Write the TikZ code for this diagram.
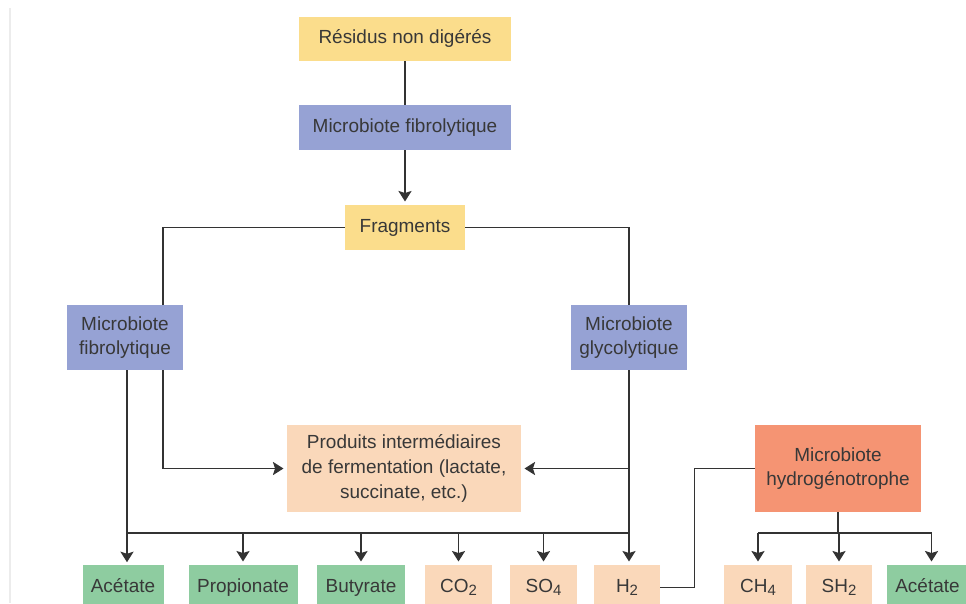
\documentclass[tikz,border=0pt]{standalone}
\usepackage{fontspec}
\setmainfont{Liberation Sans}
\usepackage{xcolor}
\usepackage{tikz}
\usetikzlibrary{arrows.meta, calc, positioning}
\definecolor{residue-color}{RGB}{251,221,140}
\definecolor{microbe-color}{RGB}{150,162,212}
\definecolor{product-color}{RGB}{250,216,186}
\definecolor{hydro-color}{RGB}{245,148,115}
\definecolor{acid-color}{RGB}{142,204,160}
\colorlet{line-color}{black!80}
\colorlet{text-color}{black!78}
\newdimen\pxunit
\pxunit=0.02cm
\newcommand{\lowidx}[1]{\raisebox{-0.3ex}{\fontsize{8.5}{9}\selectfont #1}}
\tikzset{
    box/.style = {rectangle, inner sep=0pt, align=center, text=text-color,
        font=\fontsize{10.8}{14}\selectfont},
    size/.style 2 args = {minimum width=#1\pxunit, minimum height=#2\pxunit},
    oneline/.style = {text height=8pt, text depth=2.5pt},
    residue/.style = {box, fill=residue-color},
    microbe/.style = {box, fill=microbe-color},
    product/.style = {box, fill=product-color},
    hydro/.style = {box, fill=hydro-color},
    acid/.style = {box, fill=acid-color},
    link/.style = {draw=line-color, line width=0.85pt},
    arr/.style = {link, -{Stealth[length=6pt,width=7.5pt,inset=1.2pt]}, shorten >=1.8pt},
}

\begin{document}
\begin{tikzpicture}[x=0.02cm, y=-0.02cm]
    \useasboundingbox (0,0) rectangle (966,603);
    \draw[gray!15, line width=0.6pt] (10,8) -- (10,603);

    \node[residue, oneline, size={212}{44}] (residus) at (405,39) {Résidus non digérés};
    \node[microbe, oneline, size={212}{45}] (fibroT) at (405,127.5) {Microbiote fibrolytique};
    \node[residue, oneline, size={120}{45}] (fragments) at (405,227.5) {Fragments};

    \node[microbe, size={116}{65}] (fibroL) at (125,337.5) {Microbiote\\fibrolytique};
    \node[microbe, size={116}{65}] (glyco) at (629,337.5) {Microbiote\\glycolytique};

    \node[product, size={234}{87}] (produits) at (404,468.5)
        {Produits intermédiaires\\de fermentation (lactate,\\succinate, etc.)};
    \node[hydro, size={166}{87}] (hydro) at (838,468.5)
        {Microbiote\\hydrogénotrophe};

    % bottom row, cut by the lower edge
    \node[acid, oneline, size={81}{45}] (acet1) at (123,587.5) {Acétate};
    \node[acid, oneline, size={109}{45}] (prop) at (243,587.5) {Propionate};
    \node[acid, oneline, size={88}{45}] (buty) at (361,587.5) {Butyrate};
    \node[product, oneline, size={67}{45}] (co2) at (458.5,587.5) {CO\lowidx{2}};
    \node[product, oneline, size={67}{45}] (so4) at (543.5,587.5) {SO\lowidx{4}};
    \node[product, oneline, size={66}{45}] (h2) at (627,587.5) {H\lowidx{2}};
    \node[product, oneline, size={68}{45}] (ch4) at (758,587.5) {CH\lowidx{4}};
    \node[product, oneline, size={66}{45}] (sh2) at (839,587.5) {SH\lowidx{2}};
    \node[acid, oneline, size={81}{45}] (acet2) at (927.5,587.5) {Acétate};

    \coordinate (bus) at (0,533);

    \draw[link] (residus) -- (fibroT);
    \draw[arr] (fibroT) -- (fragments);
    \draw[link] (fragments.west) -| ($(fibroL.north)+(38,0)$);
    \draw[link] (fragments.east) -| (glyco.north);

    \draw[arr] ($(fibroL.south)+(38,0)$) |- (produits.west);
    \draw[arr] (glyco.south) |- (produits.east);

    \draw[arr] ($(fibroL.south)+(2,0)$) -- ++(0,195);
    \draw[arr] (glyco.south) -- (glyco.south |- h2.north);
    \draw[link] ($(fibroL.south |- bus)+(2,0)$) -- (glyco.south |- bus);
    \foreach \n in {prop,buty,co2,so4}
        \draw[arr] (\n.north |- bus) -- (\n.north);

    \draw[link] (h2.east) -- ++(34,0) |- (hydro.west);

    \draw[link] (hydro.south) -- (hydro.south |- bus);
    \draw[link] (ch4.north |- bus) -- ($(acet2.north |- bus)+(4,0)$);
    \foreach \n in {ch4,sh2}
        \draw[arr] (\n.north |- bus) -- (\n.north);
    \draw[arr] ($(acet2.north |- bus)+(4,0)$) -- ($(acet2.north)+(4,0)$);
\end{tikzpicture}
\end{document}
